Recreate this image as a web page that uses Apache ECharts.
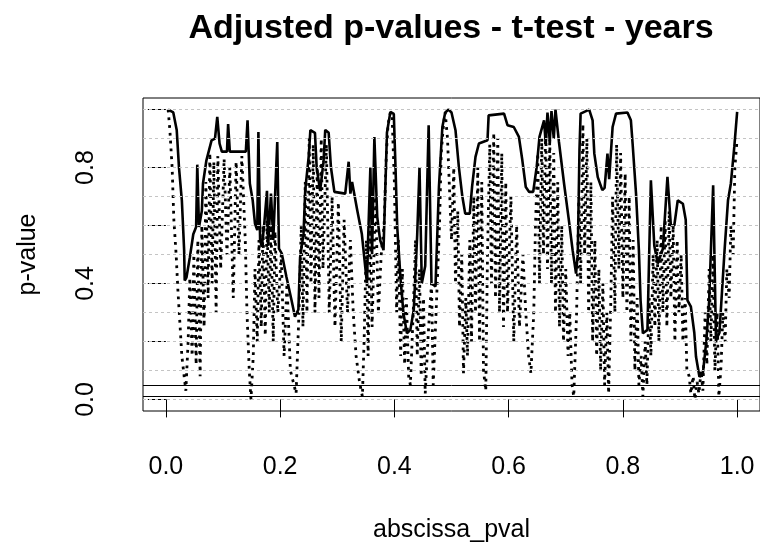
<!DOCTYPE html>
<html><head><meta charset="utf-8">
<script src="https://cdn.jsdelivr.net/npm/echarts@6/dist/echarts.min.js"></script>
<style>html,body{margin:0;padding:0;background:#fff}#c{width:760px;height:554px}</style>
</head><body><div id="c"></div>
<script>
const solidX = [0.004,0.013,0.019,0.023,0.028,0.032,0.033,0.036,0.042,0.048,0.053,0.055,0.058,0.063,0.065,0.071,0.080,0.086,0.090,0.094,0.098,0.107,0.109,0.112,0.140,0.143,0.145,0.147,0.152,0.156,0.160,0.162,0.165,0.168,0.172,0.177,0.179,0.184,0.188,0.195,0.198,0.203,0.211,0.220,0.226,0.232,0.235,0.241,0.244,0.250,0.253,0.261,0.264,0.270,0.276,0.279,0.285,0.289,0.295,0.314,0.320,0.323,0.326,0.335,0.343,0.349,0.352,0.354,0.358,0.361,0.365,0.370,0.375,0.381,0.387,0.393,0.399,0.402,0.405,0.411,0.416,0.422,0.428,0.434,0.440,0.444,0.448,0.454,0.460,0.465,0.472,0.478,0.484,0.489,0.495,0.500,0.507,0.513,0.519,0.524,0.532,0.536,0.542,0.548,0.563,0.565,0.592,0.598,0.609,0.618,0.624,0.630,0.636,0.643,0.649,0.654,0.662,0.665,0.668,0.672,0.675,0.679,0.682,0.688,0.697,0.706,0.712,0.718,0.721,0.724,0.726,0.741,0.747,0.750,0.756,0.764,0.768,0.773,0.776,0.782,0.788,0.808,0.814,0.817,0.823,0.828,0.831,0.835,0.843,0.849,0.855,0.861,0.870,0.878,0.884,0.890,0.896,0.905,0.910,0.913,0.919,0.925,0.928,0.934,0.940,0.946,0.951,0.958,0.963,0.969,0.978,0.984,0.989,0.995,1.000];
const solidY = [1.0,0.99,0.93,0.80,0.687,0.515,0.41,0.42,0.49,0.57,0.595,0.81,0.595,0.65,0.745,0.825,0.894,0.90,0.975,0.883,0.855,0.855,0.95,0.855,0.855,0.963,0.855,0.745,0.687,0.607,0.584,0.923,0.55,0.526,0.60,0.72,0.53,0.71,0.55,0.888,0.52,0.503,0.423,0.342,0.285,0.31,0.49,0.572,0.722,0.837,0.929,0.92,0.80,0.72,0.82,0.93,0.92,0.80,0.716,0.71,0.82,0.71,0.75,0.653,0.572,0.457,0.40,0.55,0.80,0.50,0.905,0.63,0.55,0.515,0.92,0.992,0.985,0.80,0.595,0.41,0.296,0.228,0.24,0.31,0.57,0.80,0.40,0.46,0.946,0.40,0.39,0.733,0.94,0.99,1.0,0.99,0.929,0.80,0.70,0.641,0.641,0.733,0.837,0.883,0.894,0.98,0.986,0.946,0.94,0.906,0.825,0.733,0.716,0.716,0.80,0.906,0.963,0.88,0.99,0.89,0.995,0.90,1.0,0.89,0.745,0.61,0.515,0.434,0.50,0.86,0.986,1.0,0.963,0.848,0.767,0.722,0.73,0.848,0.76,0.94,0.986,0.99,0.963,0.883,0.71,0.515,0.34,0.228,0.24,0.756,0.53,0.469,0.52,0.768,0.60,0.60,0.687,0.675,0.62,0.342,0.32,0.23,0.147,0.078,0.09,0.20,0.34,0.739,0.204,0.23,0.515,0.687,0.745,0.871,0.992];
const dottedX = [0.004,0.007,0.011,0.014,0.018,0.021,0.025,0.028,0.032,0.035,0.039,0.042,0.046,0.049,0.053,0.056,0.060,0.063,0.067,0.070,0.074,0.077,0.081,0.084,0.088,0.091,0.096,0.102,0.107,0.112,0.118,0.123,0.128,0.133,0.139,0.142,0.146,0.149,0.153,0.156,0.160,0.163,0.167,0.170,0.174,0.177,0.181,0.184,0.188,0.191,0.196,0.202,0.207,0.212,0.218,0.223,0.228,0.233,0.237,0.240,0.244,0.247,0.251,0.254,0.258,0.261,0.265,0.268,0.272,0.275,0.281,0.286,0.291,0.296,0.302,0.307,0.312,0.318,0.323,0.328,0.333,0.339,0.344,0.347,0.351,0.354,0.358,0.361,0.367,0.372,0.377,0.382,0.386,0.389,0.393,0.396,0.400,0.404,0.407,0.411,0.414,0.418,0.421,0.425,0.428,0.433,0.437,0.440,0.444,0.447,0.451,0.454,0.460,0.465,0.468,0.474,0.479,0.482,0.486,0.489,0.493,0.496,0.500,0.504,0.507,0.511,0.514,0.518,0.521,0.525,0.528,0.532,0.535,0.539,0.542,0.546,0.549,0.553,0.556,0.560,0.563,0.567,0.570,0.574,0.577,0.581,0.584,0.588,0.591,0.595,0.598,0.604,0.609,0.614,0.619,0.625,0.630,0.635,0.639,0.644,0.647,0.651,0.654,0.658,0.661,0.665,0.668,0.672,0.675,0.679,0.682,0.686,0.689,0.693,0.696,0.700,0.704,0.707,0.711,0.714,0.719,0.723,0.726,0.730,0.733,0.737,0.740,0.744,0.747,0.751,0.754,0.758,0.761,0.765,0.768,0.772,0.775,0.779,0.782,0.786,0.789,0.793,0.796,0.800,0.804,0.807,0.811,0.814,0.818,0.821,0.825,0.828,0.832,0.835,0.839,0.842,0.846,0.849,0.853,0.856,0.860,0.863,0.867,0.870,0.874,0.877,0.881,0.884,0.888,0.891,0.895,0.898,0.902,0.905,0.909,0.912,0.916,0.919,0.923,0.926,0.930,0.933,0.937,0.940,0.944,0.947,0.951,0.954,0.958,0.961,0.965,0.968,0.972,0.975,0.979,0.982,0.986,0.989,0.993,0.996,1.000];
const dottedY = [1.0,0.93,0.8,0.62,0.5,0.38,0.25,0.15,0.08,0.03,0.2,0.42,0.15,0.5,0.12,0.55,0.08,0.6,0.25,0.75,0.35,0.85,0.4,0.82,0.3,0.84,0.45,0.83,0.5,0.8,0.35,0.82,0.5,0.84,0.55,0.3,0.1,0.0,0.15,0.45,0.2,0.55,0.25,0.6,0.22,0.62,0.3,0.6,0.2,0.58,0.3,0.5,0.15,0.4,0.1,0.06,0.02,0.3,0.6,0.25,0.75,0.3,0.9,0.4,0.88,0.3,0.8,0.35,0.9,0.45,0.88,0.3,0.7,0.25,0.68,0.2,0.62,0.3,0.55,0.3,0.15,0.06,0.01,0.2,0.55,0.15,0.6,0.25,0.7,0.3,0.5,0.6,0.85,0.95,0.99,0.98,0.75,0.3,0.55,0.15,0.45,0.12,0.35,0.08,0.05,0.3,0.55,0.15,0.45,0.08,0.35,0.02,0.25,0.4,0.05,0.35,0.6,0.85,0.95,0.99,0.9,0.75,0.55,0.8,0.4,0.65,0.25,0.5,0.09,0.35,0.15,0.55,0.2,0.7,0.3,0.8,0.2,0.75,0.1,0.03,0.5,0.88,0.4,0.92,0.35,0.9,0.3,0.85,0.25,0.75,0.3,0.7,0.2,0.6,0.25,0.5,0.3,0.15,0.09,0.3,0.6,0.85,0.4,0.9,0.5,0.95,0.45,0.9,0.4,0.85,0.3,0.75,0.25,0.6,0.2,0.45,0.15,0.3,0.05,0.01,0.3,0.7,0.4,0.95,0.5,0.9,0.3,0.75,0.2,0.55,0.15,0.45,0.1,0.4,0.05,0.3,0.02,0.35,0.7,0.3,0.88,0.45,0.85,0.35,0.78,0.3,0.7,0.2,0.55,0.1,0.35,0.05,0.15,0.01,0.2,0.05,0.35,0.15,0.5,0.25,0.55,0.2,0.6,0.3,0.62,0.25,0.65,0.35,0.6,0.2,0.55,0.3,0.5,0.2,0.35,0.1,0.08,0.02,0.08,0.0,0.06,0.02,0.1,0.03,0.3,0.12,0.45,0.2,0.5,0.1,0.3,0.01,0.12,0.3,0.2,0.45,0.35,0.6,0.5,0.8,0.9];
const xTicks = [0, 0.2, 0.4, 0.6, 0.8, 1.0];
const yTicks = [0, 0.2, 0.4, 0.6, 0.8, 1.0];
const yLabelValues = [0, 0.4, 0.8];
const gridLevels = [0, 0.1, 0.2, 0.3, 0.4, 0.5, 0.6, 0.7, 0.8, 0.9, 1.0];
const alphaLevels = [0.05, 0.01];
const titleText = 'Adjusted p-values - t-test - years';
const xName = 'abscissa_pval';
const yName = 'p-value';

const zip = (xs, ys) => xs.map((x, i) => [x, ys[i]]);
const FONT = 'Liberation Sans, Arial, sans-serif';
const chart = echarts.init(document.getElementById('c'), null, {renderer: 'canvas'});
chart.setOption({
  animation: false,
  backgroundColor: '#fff',
  grid: {left: 143, right: 0, top: 98, bottom: 143, show: true, borderColor: '#000', borderWidth: 1, backgroundColor: 'transparent'},
  graphic: [{type: 'text', x: 451, y: 29, style: {text: titleText, font: 'bold 34px ' + FONT, fill: '#000', align: 'center', verticalAlign: 'middle'}, z: 10}],
  xAxis: {
    type: 'value', min: -0.04, max: 1.04,
    axisLine: {show: false},
    splitLine: {show: false},
    axisTick: {show: true, length: 18, customValues: xTicks, lineStyle: {color: '#000', width: 1}},
    axisLabel: {customValues: xTicks, formatter: v => v.toFixed(1), fontSize: 25, fontFamily: FONT, color: '#000', margin: 44},
    name: xName, nameLocation: 'middle', nameGap: 107,
    nameTextStyle: {fontSize: 25, fontFamily: FONT, color: '#000'}
  },
  yAxis: {
    type: 'value', min: -0.04, max: 1.04,
    axisLine: {show: false},
    splitLine: {show: false},
    axisTick: {show: true, length: 18, customValues: yTicks, lineStyle: {color: '#000', width: 1}},
    axisLabel: {customValues: yLabelValues, formatter: v => v.toFixed(1), rotate: 90, fontSize: 25, fontFamily: FONT, color: '#000', margin: 44},
    name: yName, nameLocation: 'middle', nameGap: 102, nameRotate: 90,
    nameTextStyle: {fontSize: 25, fontFamily: FONT, color: '#000'}
  },
  series: [
    {
      type: 'line', data: [], silent: true, z: 1,
      markLine: {
        silent: true, symbol: 'none', label: {show: false}, animation: false,
        data: gridLevels.map(v => ({yAxis: v, lineStyle: {color: '#c4c4c4', width: 1, type: [3, 3]}}))
          .concat(alphaLevels.map(v => ({yAxis: v, lineStyle: {color: '#000', width: 1, type: 'solid'}})))
      }
    },
    {
      name: 'dotted', type: 'line', data: zip(dottedX, dottedY), showSymbol: false, z: 3,
      lineStyle: {color: '#000', width: 2.8, type: [2.8, 5], cap: 'butt'}
    },
    {
      name: 'solid', type: 'line', data: zip(solidX, solidY), showSymbol: false, z: 4,
      lineStyle: {color: '#000', width: 2.6, type: 'solid'}
    }
  ]
});
</script></body></html>
